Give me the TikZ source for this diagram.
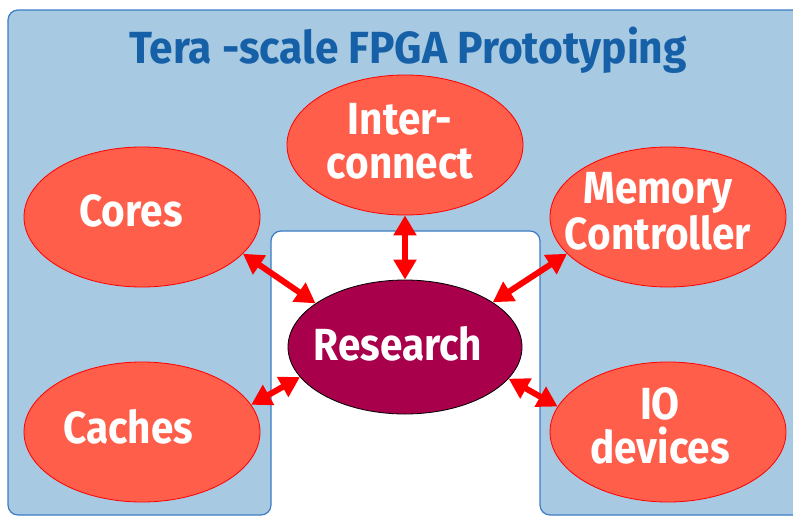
\documentclass[tikz,border=0pt]{standalone}
\usepackage{fontspec}
\setmainfont{Fira Sans}
\usetikzlibrary{shapes.geometric,arrows.meta}
\definecolor{panelblue}{HTML}{A7C9E1}
\definecolor{panelline}{HTML}{3C7DC4}
\definecolor{titleblue}{HTML}{1660A8}
\definecolor{topicfill}{HTML}{FF5E4A}
\definecolor{hubfill}{HTML}{A8004B}
\definecolor{linkred}{HTML}{FF0000}
\tikzset{
  topic/.style={ellipse, draw=linkred, line width=0.8pt, fill=topicfill,
    minimum width=236pt, minimum height=140pt, inner sep=0pt},
  hub/.style={ellipse, draw=black, line width=0.8pt, fill=hubfill,
    minimum width=234pt, minimum height=134pt, inner sep=0pt},
  lbl/.style={text=white, font=\fontsize{45}{44}\selectfont\bfseries,
    align=center, anchor=base, inner sep=0pt, transform shape, xscale=0.9},
  link/.style={linkred, line width=6pt,
    {Triangle[length=20pt,width=22pt]}-{Triangle[length=20pt,width=22pt]}}
}
\begin{document}
\begin{tikzpicture}[x=1pt,y=-1pt]
\useasboundingbox (0,0) rectangle (793,517);
% panel with the open slot for the hub
\draw[panelline, fill=panelblue, line width=1.2pt, rounded corners=10pt]
  (8,300) -- (8,10) -- (820,10) -- (820,515) -- (540,515) -- (540,231)
  -- (271,231) -- (271,515) -- (8,515) -- cycle;
\node[titleblue, font=\fontsize{45}{44}\selectfont\bfseries, anchor=base,
  inner sep=0pt, transform shape, xscale=0.945] (title) at (408,63)
  {Tera -scale FPGA Prototyping};

\node[topic] (cores) at (142,217) {};
\node[topic] (caches) at (142,432) {};
\node[topic] (inter) at (405,145) {};
\node[topic] (mem) at (668,217) {};
\node[topic] (io) at (668,432) {};
\node[hub] (res) at (405,347) {};

% labels: the base anchor sits on the last line's baseline
\node[lbl] (coresT) at (131,226) {Cores};
\node[lbl] (cachesT) at (128,443) {Caches};
\node[lbl] (interT) at (400,178) {Inter-\\connect};
\node[lbl] (memT) at (658,249) {Memory\\Controller};
\node[lbl] (resT) at (398,360) {Research};
\node[lbl] (ioT) at (660,463) {IO\\devices};

\draw[link] (cores.-20) -- (res.154);
\draw[link] (inter.south) -- (res.north);
\draw[link] (mem.-160) -- (res.27);
\draw[link] (caches.14) -- (res.-164);
\draw[link] (io.167) -- (res.-17);
\end{tikzpicture}
\end{document}
